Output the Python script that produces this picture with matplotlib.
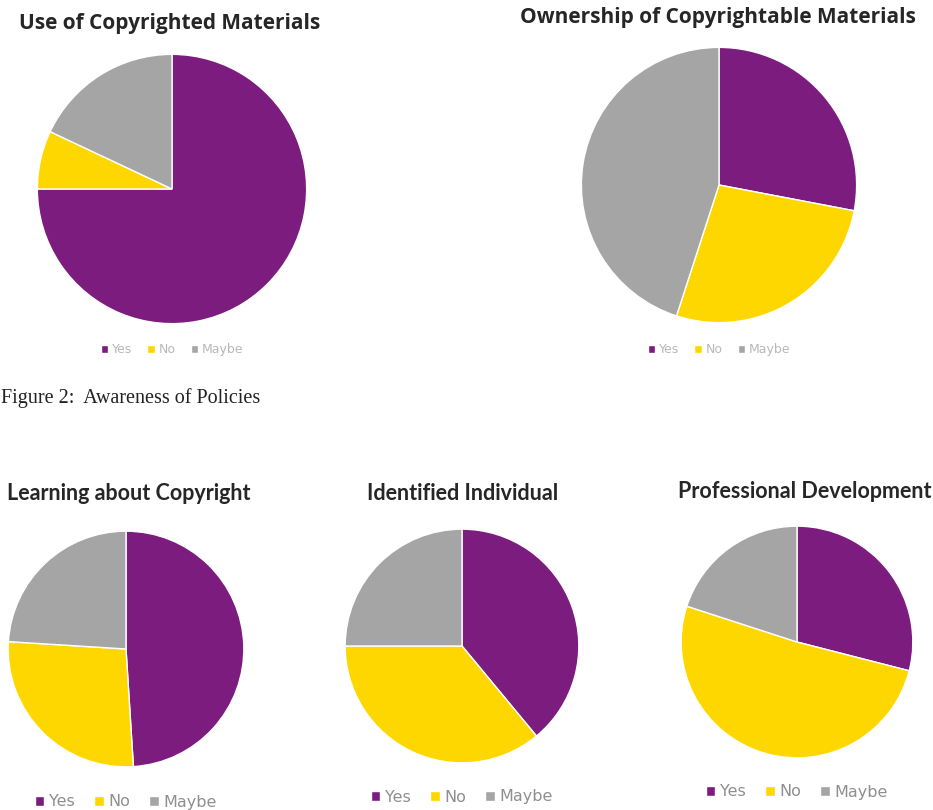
import matplotlib.pyplot as plt

W, H = 933, 810

labels = ["Yes", "No", "Maybe"]
colors = ["#7D1C7F", "#FFD700", "#A5A5A5"]

titles = [
    "Use of Copyrighted Materials",
    "Ownership of Copyrightable Materials",
    "Learning about Copyright",
    "Identified Individual",
    "Professional Development",
]

use_values = [75, 7, 18]
ownership_values = [28, 27, 45]
learning_values = [49, 27, 24]
identified_values = [39, 36, 25]
profdev_values = [29, 51, 20]

all_values = [use_values, ownership_values, learning_values,
              identified_values, profdev_values]

# layout in pixels: pie center x, center y, radius, title x, title y, legend y
layout = [
    (172, 189, 136, 170, 23, 350),
    (719, 185, 139, 718, 18, 350),
    (126, 649, 119, 129, 494, 802),
    (462, 646, 118, 463, 494, 797),
    (797, 642, 117, 805, 492, 792),
]
title_sizes = [15, 15, 15.5, 15.5, 15.5]
legend_sizes = [9, 9, 11.5, 11.5, 11.5]
legend_colors = ["#b8b8b8", "#b8b8b8", "#8f8f8f", "#8f8f8f", "#8f8f8f"]
title_fonts = ["Open Sans", "Open Sans", "Lato", "Lato", "Lato"]

fig = plt.figure(figsize=(W / 100, H / 100), dpi=100)

for vals, title, (cx, cy, r, tx, ty, ly), ts, ls, lc, tf in zip(
        all_values, titles, layout, title_sizes, legend_sizes,
        legend_colors, title_fonts):
    ax = fig.add_axes([(cx - r) / W, 1 - (cy + r) / H, 2 * r / W, 2 * r / H])
    wedges, _ = ax.pie(vals, colors=colors, startangle=90, counterclock=False,
                       radius=1, wedgeprops=dict(edgecolor="white", linewidth=1))
    ax.set_xlim(-1.01, 1.01)
    ax.set_ylim(-1.01, 1.01)
    ax.set_aspect("equal")
    ax.axis("off")

    fig.text(tx / W, 1 - ty / H, title, ha="center", va="center",
             fontsize=ts, fontweight="bold", color="#262626", family=tf)

    fig.legend(wedges, labels, loc="center", ncol=3, frameon=False,
               bbox_to_anchor=(cx / W, 1 - ly / H),
               fontsize=ls, labelcolor=lc,
               handlelength=0.6, handleheight=0.6, handletextpad=0.3,
               columnspacing=1.2)

fig.text(1 / W, 1 - 398 / H, "Figure 2:  Awareness of Policies",
         ha="left", va="center", fontsize=14.5, family="Liberation Serif",
         color="#222222")

fig.savefig("out.png", dpi=100)
